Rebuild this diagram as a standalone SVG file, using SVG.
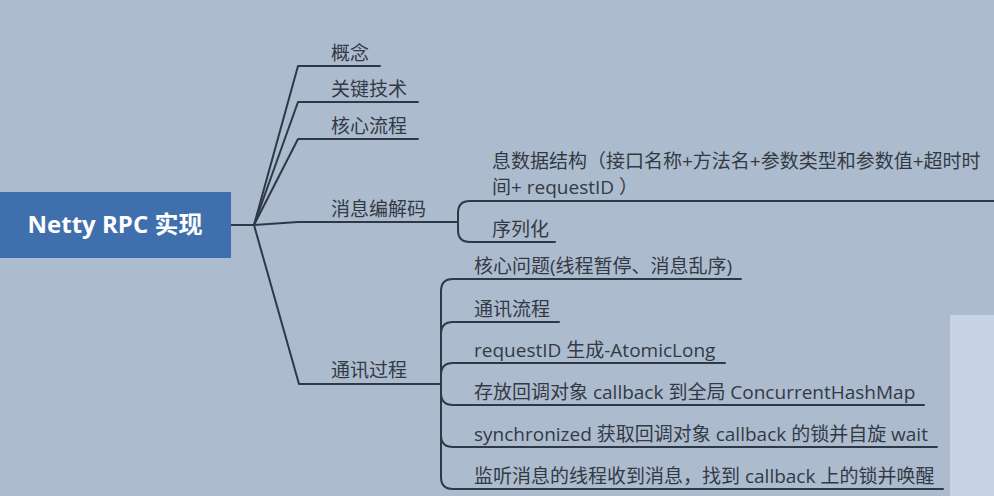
<svg xmlns="http://www.w3.org/2000/svg" width="994" height="496" viewBox="0 0 994 496">
<style>
.bg{fill:#adbbcf}
.t{font-family:"Open Sans","Noto Sans CJK SC",sans-serif;font-size:19px;fill:#333a44}
.c{fill:none;stroke:#2f3946;stroke-width:2;stroke-linejoin:round;stroke-linecap:round}
.root{font-family:"Open Sans","Noto Sans CJK SC",sans-serif;font-size:24px;font-weight:bold;fill:#ffffff}
</style>
<rect class="bg" x="0" y="0" width="994" height="496"/>
<rect x="950" y="315" width="44" height="181" fill="#c8d3e3"/>
<g id="connectors">
<path class="c" d="M231 225 H254"/>
<path class="c" d="M254 225 L298 66 H380"/>
<path class="c" d="M254 225 L298 102 H418"/>
<path class="c" d="M254 225 L298 139 H418"/>
<path class="c" d="M254 225 L298 222 H458"/>
<path class="c" d="M254 225 L299 384 H441"/>
<path class="c" d="M994 201 H470 Q458 201 458 213 V230 Q458 242 470 242 H555"/>
<path class="c" d="M441 384 V291 Q441 279 453 279 H741"/>
<path class="c" d="M441 384 V334 Q441 322 453 322 H559"/>
<path class="c" d="M441 384 V375 Q441 363 453 363 H725"/>
<path class="c" d="M441 384 V393 Q441 405 453 405 H924"/>
<path class="c" d="M441 384 V435 Q441 447 453 447 H937"/>
<path class="c" d="M441 384 V477 Q441 489 453 489 H943"/>
</g>
<g id="root">
<rect x="0" y="192" width="231" height="66" fill="#3f6fad"/>
<text class="root" x="115" y="233" text-anchor="middle">Netty RPC 实现</text>
</g>
<g id="n-gainian"><text class="t" x="331" y="60">概念</text></g>
<g id="n-guanjian"><text class="t" x="331" y="96">关键技术</text></g>
<g id="n-hexin"><text class="t" x="331" y="133">核心流程</text></g>
<g id="n-bianjie"><text class="t" x="331" y="216">消息编解码</text></g>
<g id="n-shuju"><text class="t" x="492" y="168">息数据结构（接口名称+方法名+参数类型和参数值+超时时</text><text class="t" x="492" y="194">间+ requestID ）</text></g>
<g id="n-xulie"><text class="t" x="492" y="236">序列化</text></g>
<g id="n-tongxun"><text class="t" x="331" y="377">通讯过程</text></g>
<g id="n-c1"><text class="t" x="474" y="273">核心问题(线程暂停、消息乱序)</text></g>
<g id="n-c2"><text class="t" x="474" y="316">通讯流程</text></g>
<g id="n-c3"><text class="t" x="474" y="357">requestID 生成-AtomicLong</text></g>
<g id="n-c4"><text class="t" x="474" y="399">存放回调对象 callback 到全局 ConcurrentHashMap</text></g>
<g id="n-c5"><text class="t" x="474" y="441">synchronized 获取回调对象 callback 的锁并自旋 wait</text></g>
<g id="n-c6"><text class="t" x="474" y="483">监听消息的线程收到消息，找到 callback 上的锁并唤醒</text></g>
</svg>
